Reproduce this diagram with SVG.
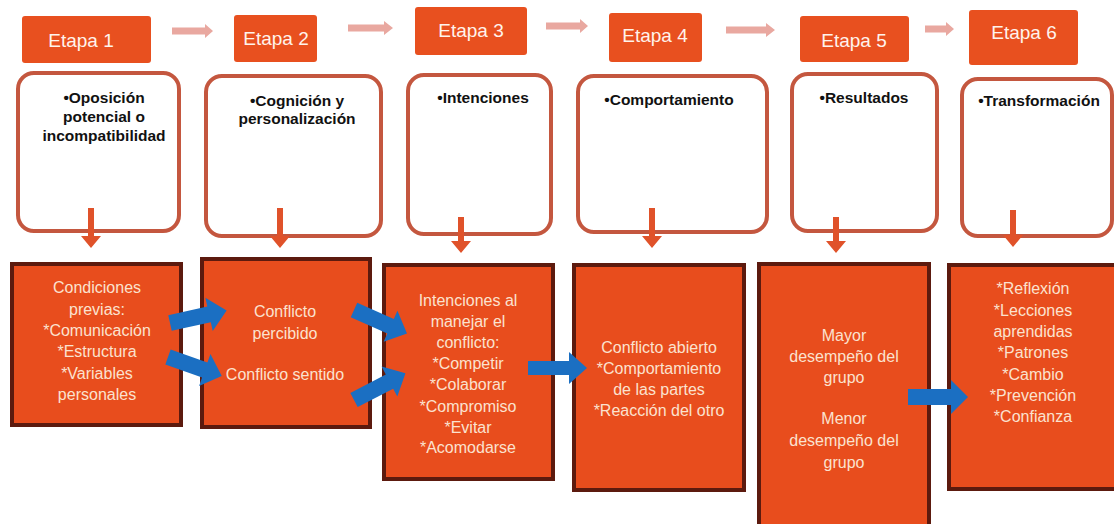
<svg xmlns="http://www.w3.org/2000/svg" width="1114" height="524" viewBox="0 0 1114 524">
<style>
.stage{fill:#E8501F;}
.stxt{font-family:"Liberation Sans",Arial,sans-serif;font-size:19px;fill:#FFF3EC;text-anchor:middle;dominant-baseline:central;}
.obox{fill:#FFFFFF;stroke:#C4573F;stroke-width:4;}
.otxt{font-family:"Liberation Sans",Arial,sans-serif;font-size:15.5px;font-weight:bold;fill:#111;text-anchor:middle;dominant-baseline:central;}
.bbox{fill:#E84D1D;stroke:#5C1A0E;stroke-width:4;}
.btxt{font-family:"Liberation Sans",Arial,sans-serif;font-size:16px;fill:#FBE2CF;text-anchor:middle;dominant-baseline:central;}
.pink{fill:#E9A8A0;}
.down{fill:#E0522A;}
.blue{fill:#1B6FC2;}
</style>
<rect width="1114" height="524" fill="#FFFFFF"/>

<g id="etapa1"><rect class="stage" x="22" y="16" width="129" height="47" rx="3"/><text class="stxt" x="81" y="40">Etapa 1</text></g>
<g id="etapa2"><rect class="stage" x="234" y="15" width="83" height="47" rx="3"/><text class="stxt" x="276" y="38">Etapa 2</text></g>
<g id="etapa3"><rect class="stage" x="415" y="7" width="112" height="48" rx="3"/><text class="stxt" x="471" y="30">Etapa 3</text></g>
<g id="etapa4"><rect class="stage" x="609" y="13" width="93" height="49" rx="3"/><text class="stxt" x="655" y="35">Etapa 4</text></g>
<g id="etapa5"><rect class="stage" x="800" y="16" width="109" height="46" rx="3"/><text class="stxt" x="854" y="40">Etapa 5</text></g>
<g id="etapa6"><rect class="stage" x="969" y="10" width="109" height="55" rx="3"/><text class="stxt" x="1024" y="32">Etapa 6</text></g>

<g id="fase1"><rect class="obox" x="18" y="73" width="161" height="158" rx="16"/>
<text class="otxt" x="104" y="97">•Oposición</text><text class="otxt" x="104" y="116">potencial o</text><text class="otxt" x="104" y="135">incompatibilidad</text></g>
<g id="fase2"><rect class="obox" x="206" y="76" width="175" height="160" rx="16"/>
<text class="otxt" x="297" y="100">•Cognición y</text><text class="otxt" x="297" y="118">personalización</text></g>
<g id="fase3"><rect class="obox" x="408" y="75" width="143" height="159" rx="16"/>
<text class="otxt" x="483" y="97">•Intenciones</text></g>
<g id="fase4"><rect class="obox" x="578" y="76" width="189" height="156" rx="16"/>
<text class="otxt" x="669" y="99">•Comportamiento</text></g>
<g id="fase5"><rect class="obox" x="792" y="74" width="145" height="157" rx="16"/>
<text class="otxt" x="864" y="97">•Resultados</text></g>
<g id="fase6"><rect class="obox" x="962" y="79" width="150" height="157" rx="16"/>
<text class="otxt" x="1039" y="100">•Transformación</text></g>

<g id="det1"><rect class="bbox" x="12" y="264" width="169" height="161"/>
<text class="btxt" x="97" y="287">Condiciones</text><text class="btxt" x="97" y="309">previas:</text><text class="btxt" x="97" y="330">*Comunicación</text><text class="btxt" x="97" y="351">*Estructura</text><text class="btxt" x="97" y="373">*Variables</text><text class="btxt" x="97" y="394">personales</text></g>
<g id="det2"><rect class="bbox" x="202" y="259" width="168" height="168"/>
<text class="btxt" x="285" y="311">Conflicto</text><text class="btxt" x="285" y="333">percibido</text><text class="btxt" x="285" y="374">Conflicto sentido</text></g>
<g id="det3"><rect class="bbox" x="384" y="265" width="169" height="214"/>
<text class="btxt" x="468" y="300">Intenciones al</text><text class="btxt" x="468" y="321">manejar el</text><text class="btxt" x="468" y="342">conflicto:</text><text class="btxt" x="468" y="363">*Competir</text><text class="btxt" x="468" y="384">*Colaborar</text><text class="btxt" x="468" y="406">*Compromiso</text><text class="btxt" x="468" y="427">*Evitar</text><text class="btxt" x="468" y="447">*Acomodarse</text></g>
<g id="det4"><rect class="bbox" x="574" y="265" width="170" height="225"/>
<text class="btxt" x="659" y="347">Conflicto abierto</text><text class="btxt" x="659" y="368">*Comportamiento</text><text class="btxt" x="659" y="389">de las partes</text><text class="btxt" x="659" y="410">*Reacción del otro</text></g>
<g id="det5"><rect class="bbox" x="759" y="264" width="170" height="270"/>
<text class="btxt" x="844" y="335">Mayor</text><text class="btxt" x="844" y="356">desempeño del</text><text class="btxt" x="844" y="377">grupo</text><text class="btxt" x="844" y="418">Menor</text><text class="btxt" x="844" y="440">desempeño del</text><text class="btxt" x="844" y="462">grupo</text></g>
<g id="det6"><rect class="bbox" x="949" y="265" width="175" height="224"/>
<text class="btxt" x="1033" y="288">*Reflexión</text><text class="btxt" x="1033" y="310">*Lecciones</text><text class="btxt" x="1033" y="331">aprendidas</text><text class="btxt" x="1033" y="352">*Patrones</text><text class="btxt" x="1033" y="374">*Cambio</text><text class="btxt" x="1033" y="395">*Prevención</text><text class="btxt" x="1033" y="416">*Confianza</text></g>

<g id="connectors">
<polygon class="pink" points="172,27.5 205,27.5 205,24 213,31 205,38 205,34.5 172,34.5"/>
<polygon class="pink" points="348,24.5 384,24.5 384,21 393,28 384,35 384,31.5 348,31.5"/>
<polygon class="pink" points="546,22.5 580,22.5 580,19 588,26 580,33 580,29.5 546,29.5"/>
<polygon class="pink" points="726,26.5 766,26.5 766,23 775,30 766,37 766,33.5 726,33.5"/>
<polygon class="pink" points="925,25.5 946,25.5 946,22 954,29 946,36 946,32.5 925,32.5"/>

<polygon class="down" points="88,208 94,208 94,236 101,236 91,248 81,236 88,236"/>
<polygon class="down" points="277,208 283,208 283,236 290,236 280,248 270,236 277,236"/>
<polygon class="down" points="458,217 464,217 464,241 471,241 461,253 451,241 458,241"/>
<polygon class="down" points="649,208 655,208 655,236 662,236 652,248 642,236 649,236"/>
<polygon class="down" points="833,217 839,217 839,241 846,241 836,253 826,241 833,241"/>
<polygon class="down" points="1010,210 1016,210 1016,235 1023,235 1013,247 1003,235 1010,235"/>

<polygon class="blue" transform="translate(170,323) rotate(-12.5)" points="0,-8 40,-8 40,-17 58,0 40,17 40,8 0,8"/>
<polygon class="blue" transform="translate(168,357) rotate(19.5)" points="0,-8 39,-8 39,-17 57,0 39,17 39,8 0,8"/>
<polygon class="blue" transform="translate(354,310) rotate(24)" points="0,-8 40,-8 40,-17 58,0 40,17 40,8 0,8"/>
<polygon class="blue" transform="translate(354,400) rotate(-27.5)" points="0,-8 40,-8 40,-17 58,0 40,17 40,8 0,8"/>
<polygon class="blue" points="528,361 569,361 569,352 587,368 569,384 569,375 528,375"/>
<polygon class="blue" points="908,389 951,389 951,380 968,397 951,414 951,405 908,405"/>
</g>
</svg>
